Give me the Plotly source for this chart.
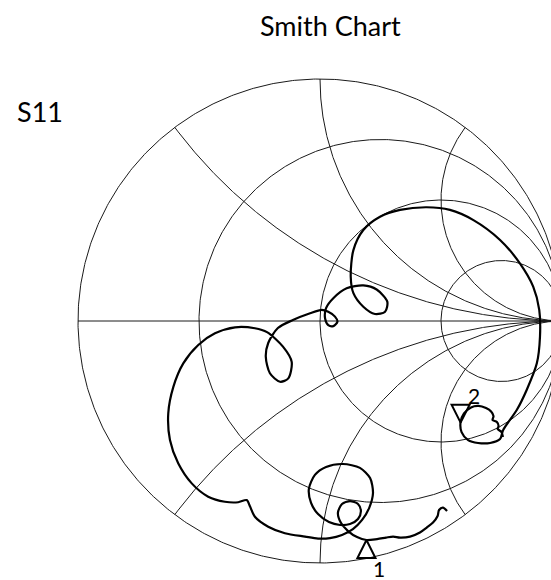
"""
Smith chart with an S11 trace and two markers.
Drawn on plain cartesian axes (reflection-coefficient plane) so the
chart can run past the right edge like the original.
"""

import numpy as np
import plotly.graph_objects as go

# ── Design tokens ─────────────────────────────────────────────────────────────
BG      = "#FFFFFF"
INK     = "#000000"
GRID    = "#1A1A1A"
FONT    = "Lato, 'Open Sans', sans-serif"

# ── Grid values (normalised resistance / reactance) ──────────────────────────
R_GRID = [0, 1 / 3, 1, 3]
X_GRID = [0.5, 1, 2]

# ── S11 trace ─────────────────
s11_re = [
    0.525, 0.508, 0.492, 0.486, 0.467, 0.442, 0.413, 0.372, 0.331, 0.302,
    0.273, 0.236, 0.192, 0.153, 0.116, 0.087, 0.074, 0.091, 0.124, 0.157,
    0.169, 0.157, 0.124, 0.083, 0.037, -0.008, -0.037, -0.046, -0.021, 0.025,
    0.095, 0.165, 0.207, 0.219, 0.203, 0.174, 0.136, 0.091, 0.041, -0.008,
    -0.062, -0.145, -0.214, -0.269, -0.289, -0.303, -0.338, -0.393, -0.462, -0.530,
    -0.586, -0.620, -0.627, -0.606, -0.565, -0.503, -0.434, -0.351, -0.269, -0.219,
    -0.153, -0.117, -0.131, -0.165, -0.207, -0.224, -0.214, -0.174, -0.112, -0.041,
    0.007, 0.034, 0.062, 0.072, 0.055, 0.034, 0.021, 0.025, 0.055, 0.110,
    0.179, 0.234, 0.278, 0.269, 0.227, 0.179, 0.138, 0.127, 0.138, 0.179,
    0.248, 0.331, 0.441, 0.537, 0.634, 0.744, 0.826, 0.881, 0.906, 0.909,
    0.896, 0.854, 0.813, 0.757, 0.744, 0.703, 0.653, 0.612, 0.585, 0.581,
    0.595, 0.624, 0.655, 0.686, 0.707, 0.717, 0.713, 0.731, 0.738, 0.734,
    0.750, 0.756,
]
s11_im = [
    -0.785, -0.771, -0.781, -0.806, -0.833, -0.853, -0.874, -0.891, -0.895, -0.891,
    -0.895, -0.901, -0.905, -0.893, -0.868, -0.835, -0.793, -0.756, -0.744, -0.756,
    -0.785, -0.818, -0.839, -0.843, -0.831, -0.798, -0.752, -0.694, -0.636, -0.603,
    -0.591, -0.607, -0.649, -0.711, -0.773, -0.822, -0.860, -0.884, -0.897, -0.899,
    -0.891, -0.877, -0.850, -0.809, -0.767, -0.740, -0.749, -0.747, -0.726, -0.671,
    -0.588, -0.492, -0.381, -0.272, -0.175, -0.099, -0.051, -0.026, -0.030, -0.046,
    -0.106, -0.169, -0.237, -0.251, -0.216, -0.148, -0.091, -0.029, 0.004, 0.032,
    0.046, 0.038, 0.018, -0.003, -0.021, -0.017, 0.011, 0.053, 0.094, 0.135,
    0.147, 0.130, 0.080, 0.038, 0.029, 0.059, 0.115, 0.183, 0.293, 0.376,
    0.431, 0.459, 0.470, 0.459, 0.417, 0.335, 0.238, 0.142, 0.046, -0.065,
    -0.175, -0.285, -0.368, -0.450, -0.488, -0.504, -0.504, -0.492, -0.459, -0.417,
    -0.382, -0.357, -0.351, -0.360, -0.374, -0.393, -0.409, -0.417, -0.434, -0.446,
    -0.459, -0.479,
]

# ── Markers on the trace ─────────────────────────────────────────────────────
mk_re     = [0.192, 0.581]
mk_im     = [-0.905, -0.420]
mk_labels = ["1", "2"]
mk_symbol = ["arrow-up-open", "arrow-down-open"]


def smith_grid():
    """Constant-r circles and constant-x arcs as one polyline (None-separated)."""
    gx, gy = [], []
    t = np.linspace(0, 2 * np.pi, 721)
    for r in R_GRID:
        c, rad = r / (1 + r), 1 / (1 + r)
        gx += list(c + rad * np.cos(t)) + [None]
        gy += list(rad * np.sin(t)) + [None]

    for x in X_GRID:
        for xs in (x, -x):
            er = (xs ** 2 - 1) / (xs ** 2 + 1)
            ei = 2 * xs / (xs ** 2 + 1)
            a0 = np.arctan2(-1 / xs, 0.0)
            a1 = np.arctan2(ei - 1 / xs, er - 1)
            if xs > 0 and a1 > a0:
                a1 -= 2 * np.pi
            if xs < 0 and a1 < a0:
                a1 += 2 * np.pi
            a = np.linspace(a0, a1, 400)
            gx += list(1 + np.cos(a) / abs(xs)) + [None]
            gy += list(1 / xs + np.sin(a) / abs(xs)) + [None]

    # real axis
    gx += [-1, 1, None]
    gy += [0, 0, None]
    return gx, gy


W, H = 551, 580
CX, CY, RPX = 320, 321, 242          # chart centre / radius in pixels

fig = go.Figure()

gx, gy = smith_grid()
fig.add_trace(go.Scatter(
    x=gx, y=gy, mode="lines",
    line=dict(color=GRID, width=1),
    hoverinfo="skip",
))

fig.add_trace(go.Scatter(
    x=s11_re, y=s11_im, mode="lines",
    line=dict(color=INK, width=2.2, shape="spline", smoothing=0.8),
    name="S11",
    hovertemplate="Γ = %{x:.3f} %{y:+.3f}j<extra></extra>",
))

fig.add_trace(go.Scatter(
    x=mk_re, y=mk_im, mode="markers",
    marker=dict(symbol=mk_symbol, size=18, color=INK,
                line=dict(color=INK, width=2)),
    hoverinfo="skip",
))

for xr, xi, lab, sym in zip(mk_re, mk_im, mk_labels, mk_symbol):
    below = sym.startswith("arrow-up")
    fig.add_annotation(
        x=xr, y=xi, xref="x", yref="y", text=lab, showarrow=False,
        xshift=13, yshift=-28 if below else 27,
        font=dict(family=FONT, size=21, color=INK),
    )

fig.add_annotation(
    text="Smith Chart", xref="paper", yref="paper",
    x=330 / W, y=1 - 26 / H, xanchor="center", yanchor="middle",
    showarrow=False, font=dict(family=FONT, size=27, color=INK),
)
fig.add_annotation(
    text="S11", xref="paper", yref="paper",
    x=15 / W, y=1 - 112 / H, xanchor="left", yanchor="middle",
    showarrow=False, font=dict(family=FONT, size=27, color=INK),
)

fig.update_layout(
    width=W, height=H,
    paper_bgcolor=BG, plot_bgcolor=BG,
    margin=dict(l=0, r=0, t=0, b=0),
    showlegend=False,
    xaxis=dict(range=[-CX / RPX, (W - CX) / RPX], visible=False, fixedrange=True),
    yaxis=dict(range=[(CY - H) / RPX, CY / RPX], visible=False, fixedrange=True),
)

fig.write_html(
    "out.html",
    config={"displayModeBar": False},
    post_script="document.body.style.margin='0';document.body.style.overflow='hidden';",
)
